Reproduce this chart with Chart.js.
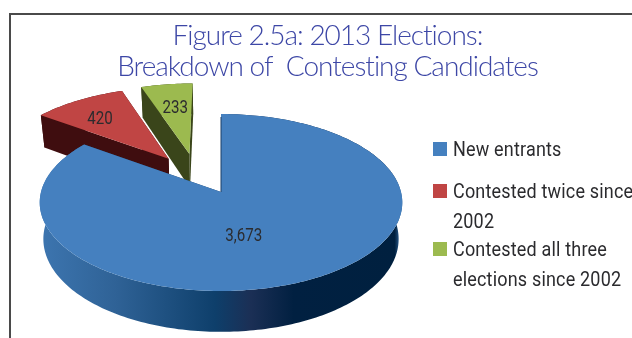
<!DOCTYPE html>
<html>
<head>
<meta charset="utf-8">
<title>2013 Elections</title>
<script src="https://cdn.jsdelivr.net/npm/chart.js@4"></script>
<style>
  html, body { margin: 0; padding: 0; background: #fff; overflow: hidden; }
  #wrap { position: relative; width: 632px; height: 338px; }
  #frame { position: absolute; left: 9px; top: 13px; right: -4px; bottom: -4px; border: 2px solid #4a4a4a; }
  canvas { position: absolute; left: 0; top: 0; }
</style>
</head>
<body>
<div id="wrap">
  <canvas id="candidatesChart" width="632" height="338"></canvas>
  <div id="frame"></div>
</div>
<script>
const categories = [
  ['New entrants'],
  ['Contested twice since', '2002'],
  ['Contested all three', 'elections since 2002']
];
const candidates = [3673, 420, 233];
const sliceColors = ['#4580bf', '#c04544', '#9cba4f'];
const titleLines = ['Figure 2.5a: 2013 Elections:', 'Breakdown of  Contesting Candidates'];

// Tilted pie: each arc keeps the angles Chart.js worked out, then gets projected
const pie3d = {
  id: 'pie3d',
  beforeDraw(chart, args, opts) {
    chart.ctx.letterSpacing = opts.titleTracking;
  },
  beforeDatasetsDraw(chart, args, opts) {
    const ctx = chart.ctx;
    const arcs = chart.getDatasetMeta(0).data;
    ctx.letterSpacing = '0px';

    const project = (u, v, z) => {
      const w = 1 - opts.tilt * v;
      return [
        opts.x + opts.rx * u / w * (1 - opts.shrink * z),
        opts.y + opts.ry * v / w + opts.depth * z / w
      ];
    };

    const rimOf = (arc, i) => {
      const [ox, oy] = opts.explode[i];
      const rim = [];
      const steps = Math.ceil((arc.endAngle - arc.startAngle) / 0.02);
      for (let s = 0; s <= steps; s++) {
        const a = arc.startAngle + (arc.endAngle - arc.startAngle) * s / steps;
        rim.push([ox + Math.cos(a), oy + Math.sin(a)]);
      }
      return { ox, oy, rim };
    };

    const fillPoly = (pts, fill) => {
      ctx.beginPath();
      pts.forEach((p, n) => (n ? ctx.lineTo(p[0], p[1]) : ctx.moveTo(p[0], p[1])));
      ctx.closePath();
      ctx.fillStyle = fill;
      ctx.fill();
    };

    // the font on hand is too wide, so squeeze it horizontally
    const narrowText = (text, x, y, squeeze) => {
      ctx.save();
      ctx.translate(x, y);
      ctx.scale(squeeze, 1);
      ctx.fillText(text, 0, 0);
      ctx.restore();
    };

    const wallGradient = ctx.createLinearGradient(45, 0, 400, 0);
    wallGradient.addColorStop(0, '#3c74ae');
    wallGradient.addColorStop(0.2, '#2f6296');
    wallGradient.addColorStop(0.48, '#0e3f6b');
    wallGradient.addColorStop(0.58, '#1b2f55');
    wallGradient.addColorStop(0.7, '#012041');
    wallGradient.addColorStop(0.985, '#00203f');
    wallGradient.addColorStop(1, '#2f6296');
    const walls = [wallGradient, opts.walls[1], opts.walls[2]];

    // back to front so the big slice covers the cut faces of the others
    for (let i = arcs.length - 1; i >= 0; i--) {
      const arc = arcs[i];
      const { ox, oy, rim } = rimOf(arc, i);
      const top = rim.map(p => project(p[0], p[1], 0));
      const low = rim.map(p => project(p[0], p[1], 1));
      const apexTop = project(ox, oy, 0);
      const apexLow = project(ox, oy, 1);

      fillPoly(top.concat(low.slice().reverse()), walls[i]);
      const flat = i === 0 ? opts.walls[0] : walls[i];
      fillPoly([apexTop, top[0], low[0], apexLow], flat);
      fillPoly([apexTop, top[top.length - 1], low[low.length - 1], apexLow], flat);
      fillPoly([apexTop].concat(top), arc.options.backgroundColor);

      if (i === 0) {
        ctx.beginPath();
        ctx.moveTo(top[0][0], top[0][1] + 3);
        ctx.lineTo(apexTop[0], apexTop[1]);
        ctx.strokeStyle = '#1d3f66';
        ctx.lineWidth = 1;
        ctx.stroke();
      }
    }

    // value labels sit on the top face of each slice
    ctx.save();
    ctx.font = opts.valueFont;
    ctx.fillStyle = opts.textColor;
    ctx.textAlign = 'center';
    ctx.textBaseline = 'middle';
    arcs.forEach((arc, i) => {
      const { ox, oy } = rimOf(arc, i);
      const mid = (arc.startAngle + arc.endAngle) / 2;
      const [r, nudgeX, nudgeY] = opts.labelPlace[i];
      const p = project(ox + r * Math.cos(mid), oy + r * Math.sin(mid), 0);
      narrowText(candidates[i].toLocaleString('en-US'), p[0] + nudgeX, p[1] + nudgeY, opts.valueSqueeze);
    });
    ctx.restore();

    // swatches and wrapped legend text
    ctx.save();
    ctx.font = opts.legendFont;
    ctx.textBaseline = 'middle';
    ctx.letterSpacing = opts.legendTracking;
    categories.forEach((lines, i) => {
      const y = opts.legendRows[i];
      ctx.fillStyle = sliceColors[i];
      ctx.fillRect(433, y - 7, 14, 14);
      ctx.fillStyle = opts.textColor;
      lines.forEach((line, n) => narrowText(line, 453, y + 1.5 + n * 30.5, opts.legendSqueeze));
    });
    ctx.restore();

    return false;
  }
};

new Chart(document.getElementById('candidatesChart'), {
  type: 'pie',
  data: {
    labels: categories.map(lines => lines.join(' ')),
    datasets: [{ data: candidates, backgroundColor: sliceColors, borderWidth: 0 }]
  },
  options: {
    responsive: false,
    animation: false,
    layout: { padding: { left: 23 } },
    plugins: {
      legend: { display: false },
      tooltip: { enabled: false },
      title: {
        display: true,
        fullSize: false,
        text: titleLines,
        color: '#3d47a6',
        font: { family: 'Lato', size: 28, weight: '300', lineHeight: 1.09 },
        padding: { top: 21, bottom: 0 }
      },
      pie3d: {
        x: 221, y: 192, rx: 180, ry: 87.25, tilt: 0.1186,
        depth: 36, shrink: 0.02,
        explode: [[0, 0], [-0.305, -0.4], [-0.185, -0.459]],
        walls: ['#1d3f66', '#3f0d0f', '#3a451a'],
        labelPlace: [[0.57, -27, -3], [0.71, -3, 3], [0.64, 1, 1]],
        legendRows: [149, 191, 249],
        textColor: '#2b2b2e',
        titleTracking: '-1px',
        legendTracking: '0.2px',
        legendSqueeze: 0.9,
        valueSqueeze: 0.84,
        valueFont: '18px Roboto, sans-serif',
        legendFont: '20px Roboto, sans-serif'
      }
    }
  },
  plugins: [pie3d]
});
</script>
</body>
</html>
